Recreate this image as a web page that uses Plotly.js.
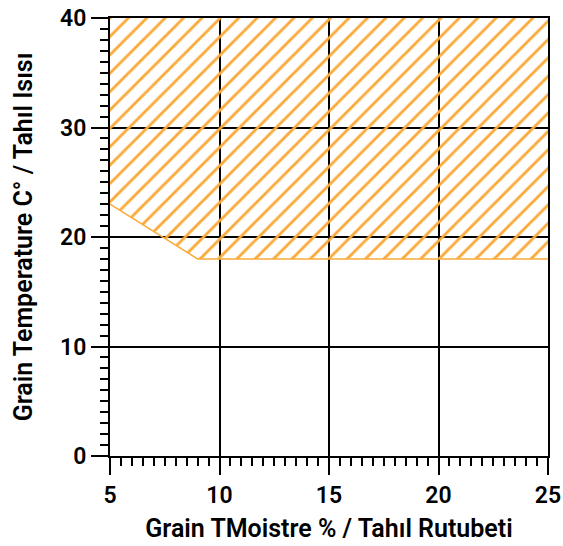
<!DOCTYPE html>
<html>
<head>
<meta charset="utf-8">
<script src="https://cdn.plot.ly/plotly-3.0.1.min.js"></script>
<style>html,body{margin:0;padding:0;background:#fff;}#chart{width:563px;height:546px;}</style>
</head>
<body>
<div id="chart"></div>
<script>
// Region boundary (moisture %, temperature °C)
const zoneMoisture = [5, 9, 25, 25, 5, 5];
const zoneTemperature = [23, 18, 18, 40, 40, 23];
const edgeMoisture = [5, 9, 25];
const edgeTemperature = [23, 18, 18];
const xTicks = [5, 10, 15, 20, 25];
const yTicks = [0, 10, 20, 30, 40];
const xTitle = 'Grain TMoistre % / Tahıl Rutubeti';
const yTitle = 'Grain Temperature C° / Tahıl Isısı';

const orange = '#FBAA3A';
const fontFam = 'Roboto, "Noto Sans", sans-serif';

const traces = [
  {
    x: zoneMoisture, y: zoneTemperature, type: 'scatter', mode: 'lines',
    fill: 'toself', fillcolor: 'rgba(0,0,0,0)',
    fillpattern: {shape: '/', fgcolor: orange, bgcolor: 'rgba(255,255,255,0)', size: 13, solidity: 0.22},
    line: {width: 0, color: orange}, hoverinfo: 'skip', showlegend: false
  },
  {
    x: edgeMoisture, y: edgeTemperature, type: 'scatter', mode: 'lines',
    line: {width: 1.5, color: orange}, hoverinfo: 'skip', showlegend: false
  }
];

const axisCommon = {
  showgrid: true, gridcolor: '#000', gridwidth: 2,
  showline: true, linecolor: '#000', linewidth: 2, mirror: true,
  ticks: 'outside', ticklen: 17, tickwidth: 2, tickcolor: '#000',
  zeroline: false, layer: 'above traces',
  tickfont: {family: fontFam, size: 23, color: '#000', weight: 600}
};

const layout = {
  width: 563, height: 546,
  margin: {l: 110, r: 15, t: 18, b: 90},
  paper_bgcolor: '#fff', plot_bgcolor: '#fff',
  showlegend: false,
  xaxis: Object.assign({}, axisCommon, {
    range: [5, 25], tickvals: xTicks, ticktext: xTicks.map(String),
    minor: {dtick: 0.5, ticks: 'outside', ticklen: 8, tickwidth: 2, tickcolor: '#000', showgrid: false},
    title: {text: xTitle, font: {family: fontFam, size: 25, color: '#000', weight: 600}, standoff: 12}
  }),
  yaxis: Object.assign({}, axisCommon, {
    range: [0, 40], tickvals: yTicks, ticktext: yTicks.map(String),
    minor: {dtick: 1, ticks: 'outside', ticklen: 8, tickwidth: 2, tickcolor: '#000', showgrid: false},
    title: {text: yTitle, font: {family: fontFam, size: 25, color: '#000', weight: 600}, standoff: 20}
  })
};

Plotly.newPlot('chart', traces, layout, {displayModeBar: false, staticPlot: true});
</script>
</body>
</html>
